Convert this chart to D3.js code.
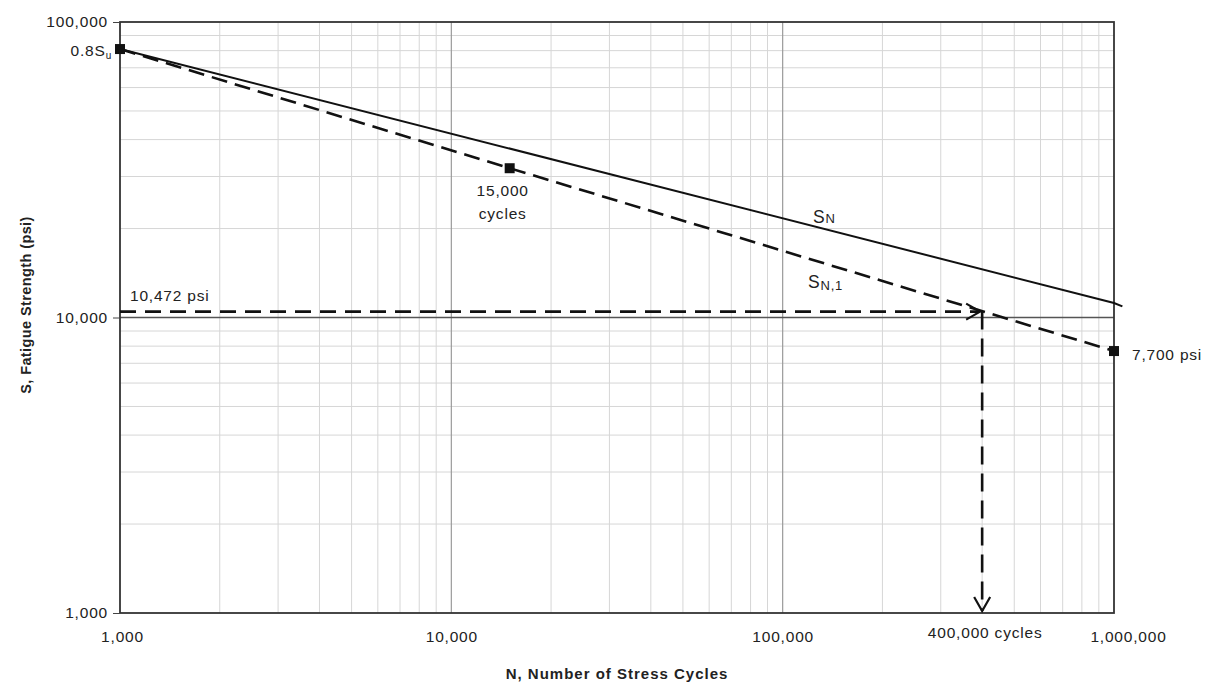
<!DOCTYPE html>
<html>
<head>
<meta charset="utf-8">
<script src="https://cdn.jsdelivr.net/npm/d3@7/dist/d3.min.js"></script>
<style>
  html, body { margin: 0; padding: 0; background: #fff; }
  svg { display: block; }
  text { font-family: "Liberation Sans", Arial, sans-serif; fill: #222; }
</style>
</head>
<body>
<svg id="chart" width="1214" height="684"></svg>
<script>
// S-N fatigue curves on log-log axes
const xTicks = [1000, 10000, 100000, 1000000];
const yTicks = [1000, 10000, 100000];

// Solid S-N line (N, S)
const snN = [1000, 1000000, 1060000];
const snS = [81000, 11200, 10900];

// Dashed modified S-N line through the three marked points
const sn1N = [1000, 15000, 1000000];
const sn1S = [81000, 32000, 7700];

// Read-off construction: stress level and resulting life
const readStress = 10472;
const readCycles = 400000;

const svg = d3.select("#chart");
const plotL = 120, plotR = 1114, plotT = 22, plotB = 613;

const x = d3.scaleLog().domain([1000, 1000000]).range([plotL, plotR]);
const y = d3.scaleLog().domain([1000, 100000]).range([plotB, plotT]);

// minor grid values 2..9 of each decade
const minorX = [], minorY = [];
[1000, 10000, 100000].forEach(d => { for (let k = 2; k <= 9; k++) minorX.push(d * k); });
[1000, 10000].forEach(d => { for (let k = 2; k <= 9; k++) minorY.push(d * k); });

const grid = svg.append("g");
grid.selectAll(".vminor").data(minorX).enter().append("line")
  .attr("x1", d => x(d)).attr("x2", d => x(d))
  .attr("y1", plotT).attr("y2", plotB)
  .attr("stroke", "#d6d6d6").attr("stroke-width", 1);
grid.selectAll(".hminor").data(minorY).enter().append("line")
  .attr("x1", plotL).attr("x2", plotR)
  .attr("y1", d => y(d)).attr("y2", d => y(d))
  .attr("stroke", "#d6d6d6").attr("stroke-width", 1);
grid.selectAll(".vmajor").data([10000, 100000]).enter().append("line")
  .attr("x1", d => x(d)).attr("x2", d => x(d))
  .attr("y1", plotT).attr("y2", plotB)
  .attr("stroke", "#9a9a9a").attr("stroke-width", 1.2);
grid.selectAll(".hmajor").data([10000]).enter().append("line")
  .attr("x1", plotL).attr("x2", plotR)
  .attr("y1", d => y(d)).attr("y2", d => y(d))
  .attr("stroke", "#555").attr("stroke-width", 1.4);

// frame
svg.append("rect")
  .attr("x", plotL).attr("y", plotT)
  .attr("width", plotR - plotL).attr("height", plotB - plotT)
  .attr("fill", "none").attr("stroke", "#333").attr("stroke-width", 1.8);

// axes
const fmt = d3.format(",");
const yAxis = svg.append("g").attr("transform", `translate(${plotL},0)`)
  .call(d3.axisLeft(y).tickValues(yTicks).tickFormat(fmt).tickSize(7).tickPadding(5));
yAxis.select(".domain").remove();
yAxis.selectAll(".tick line").attr("stroke", "#444");
yAxis.selectAll("text").attr("font-size", 15.5).attr("letter-spacing", 0.8)
  .style("font-family", "'Liberation Sans', Arial, sans-serif").attr("fill", "#222");

const xAxis = svg.append("g").attr("transform", `translate(0,${plotB})`)
  .call(d3.axisBottom(x).tickValues(xTicks).tickFormat(fmt).tickSize(0).tickPadding(18));
xAxis.select(".domain").remove();
xAxis.selectAll("text").attr("font-size", 15.5).attr("letter-spacing", 0.8)
  .style("font-family", "'Liberation Sans', Arial, sans-serif").attr("fill", "#222")
  .attr("dx", d => d === 1000000 ? 14 : (d === 1000 ? 2 : 0));

// axis titles
svg.append("text")
  .attr("x", 617).attr("y", 679).attr("text-anchor", "middle")
  .attr("font-size", 15).attr("font-weight", "bold").attr("letter-spacing", 1)
  .text("N, Number of Stress Cycles");
svg.append("text")
  .attr("transform", "translate(31,305) rotate(-90)").attr("text-anchor", "middle")
  .attr("font-size", 14.5).attr("font-weight", "bold").attr("letter-spacing", 0.4)
  .text("S, Fatigue Strength (psi)");

const line = d3.line().x(d => x(d[0])).y(d => y(d[1]));

// solid S-N line
svg.append("path")
  .datum(snN.map((n, i) => [n, snS[i]]))
  .attr("d", line).attr("fill", "none")
  .attr("stroke", "#111").attr("stroke-width", 2);

// dashed modified line
svg.append("path")
  .datum(sn1N.map((n, i) => [n, sn1S[i]]))
  .attr("d", line).attr("fill", "none")
  .attr("stroke", "#111").attr("stroke-width", 2.6)
  .attr("stroke-dasharray", "16,8");

// horizontal read line at the stress level, arrow at the intersection
const ax = x(readCycles), ay = y(readStress);
svg.append("line")
  .attr("x1", plotL).attr("x2", ax - 2).attr("y1", ay).attr("y2", ay)
  .attr("stroke", "#111").attr("stroke-width", 2.6)
  .attr("stroke-dasharray", "16,9");
svg.append("path")
  .attr("d", `M${ax - 16},${ay - 8} L${ax - 2},${ay} L${ax - 16},${ay + 8}`)
  .attr("fill", "none").attr("stroke", "#111").attr("stroke-width", 2.2);

// vertical read line down to the life axis
svg.append("line")
  .attr("x1", ax).attr("x2", ax).attr("y1", ay).attr("y2", plotB - 2)
  .attr("stroke", "#111").attr("stroke-width", 2.6)
  .attr("stroke-dasharray", "18,9");
svg.append("path")
  .attr("d", `M${ax - 8},${plotB - 16} L${ax},${plotB - 2} L${ax + 8},${plotB - 16}`)
  .attr("fill", "none").attr("stroke", "#111").attr("stroke-width", 2.2);

// square markers
svg.selectAll(".mk").data(sn1N.map((n, i) => [n, sn1S[i]])).enter().append("rect")
  .attr("x", d => x(d[0]) - 5).attr("y", d => y(d[1]) - 5)
  .attr("width", 10).attr("height", 10).attr("fill", "#111");

// annotations
const lab = (px, py, txt, size, anchor) => svg.append("text")
  .attr("x", px).attr("y", py).attr("font-size", size || 15)
  .attr("letter-spacing", 0.8).attr("text-anchor", anchor || "start").text(txt);

const su = lab(x(sn1N[0]) - 8, y(sn1S[0]) + 7, "0.8S", 15.5, "end");
su.append("tspan").attr("font-size", 10).attr("dy", 3).text("u");

lab(x(sn1N[1]) - 7, y(sn1S[1]) + 28, "15,000", 15.5, "middle");
lab(x(sn1N[1]) - 7, y(sn1S[1]) + 51, "cycles", 15.5, "middle");

lab(x(sn1N[2]) + 18, y(sn1S[2]) + 9, "7,700 psi", 15.5);
lab(plotL + 10, ay - 11, fmt(readStress) + " psi", 15.5);
lab(ax + 3, plotB + 25, fmt(readCycles) + " cycles", 15.5, "middle");

const snLab = lab(813, 223, "S", 17.5);
snLab.append("tspan").attr("font-size", 13).text("N");
const sn1Lab = lab(808, 288, "S", 17.5);
sn1Lab.append("tspan").attr("font-size", 13).attr("dy", 2).text("N,1");
</script>
</body>
</html>
